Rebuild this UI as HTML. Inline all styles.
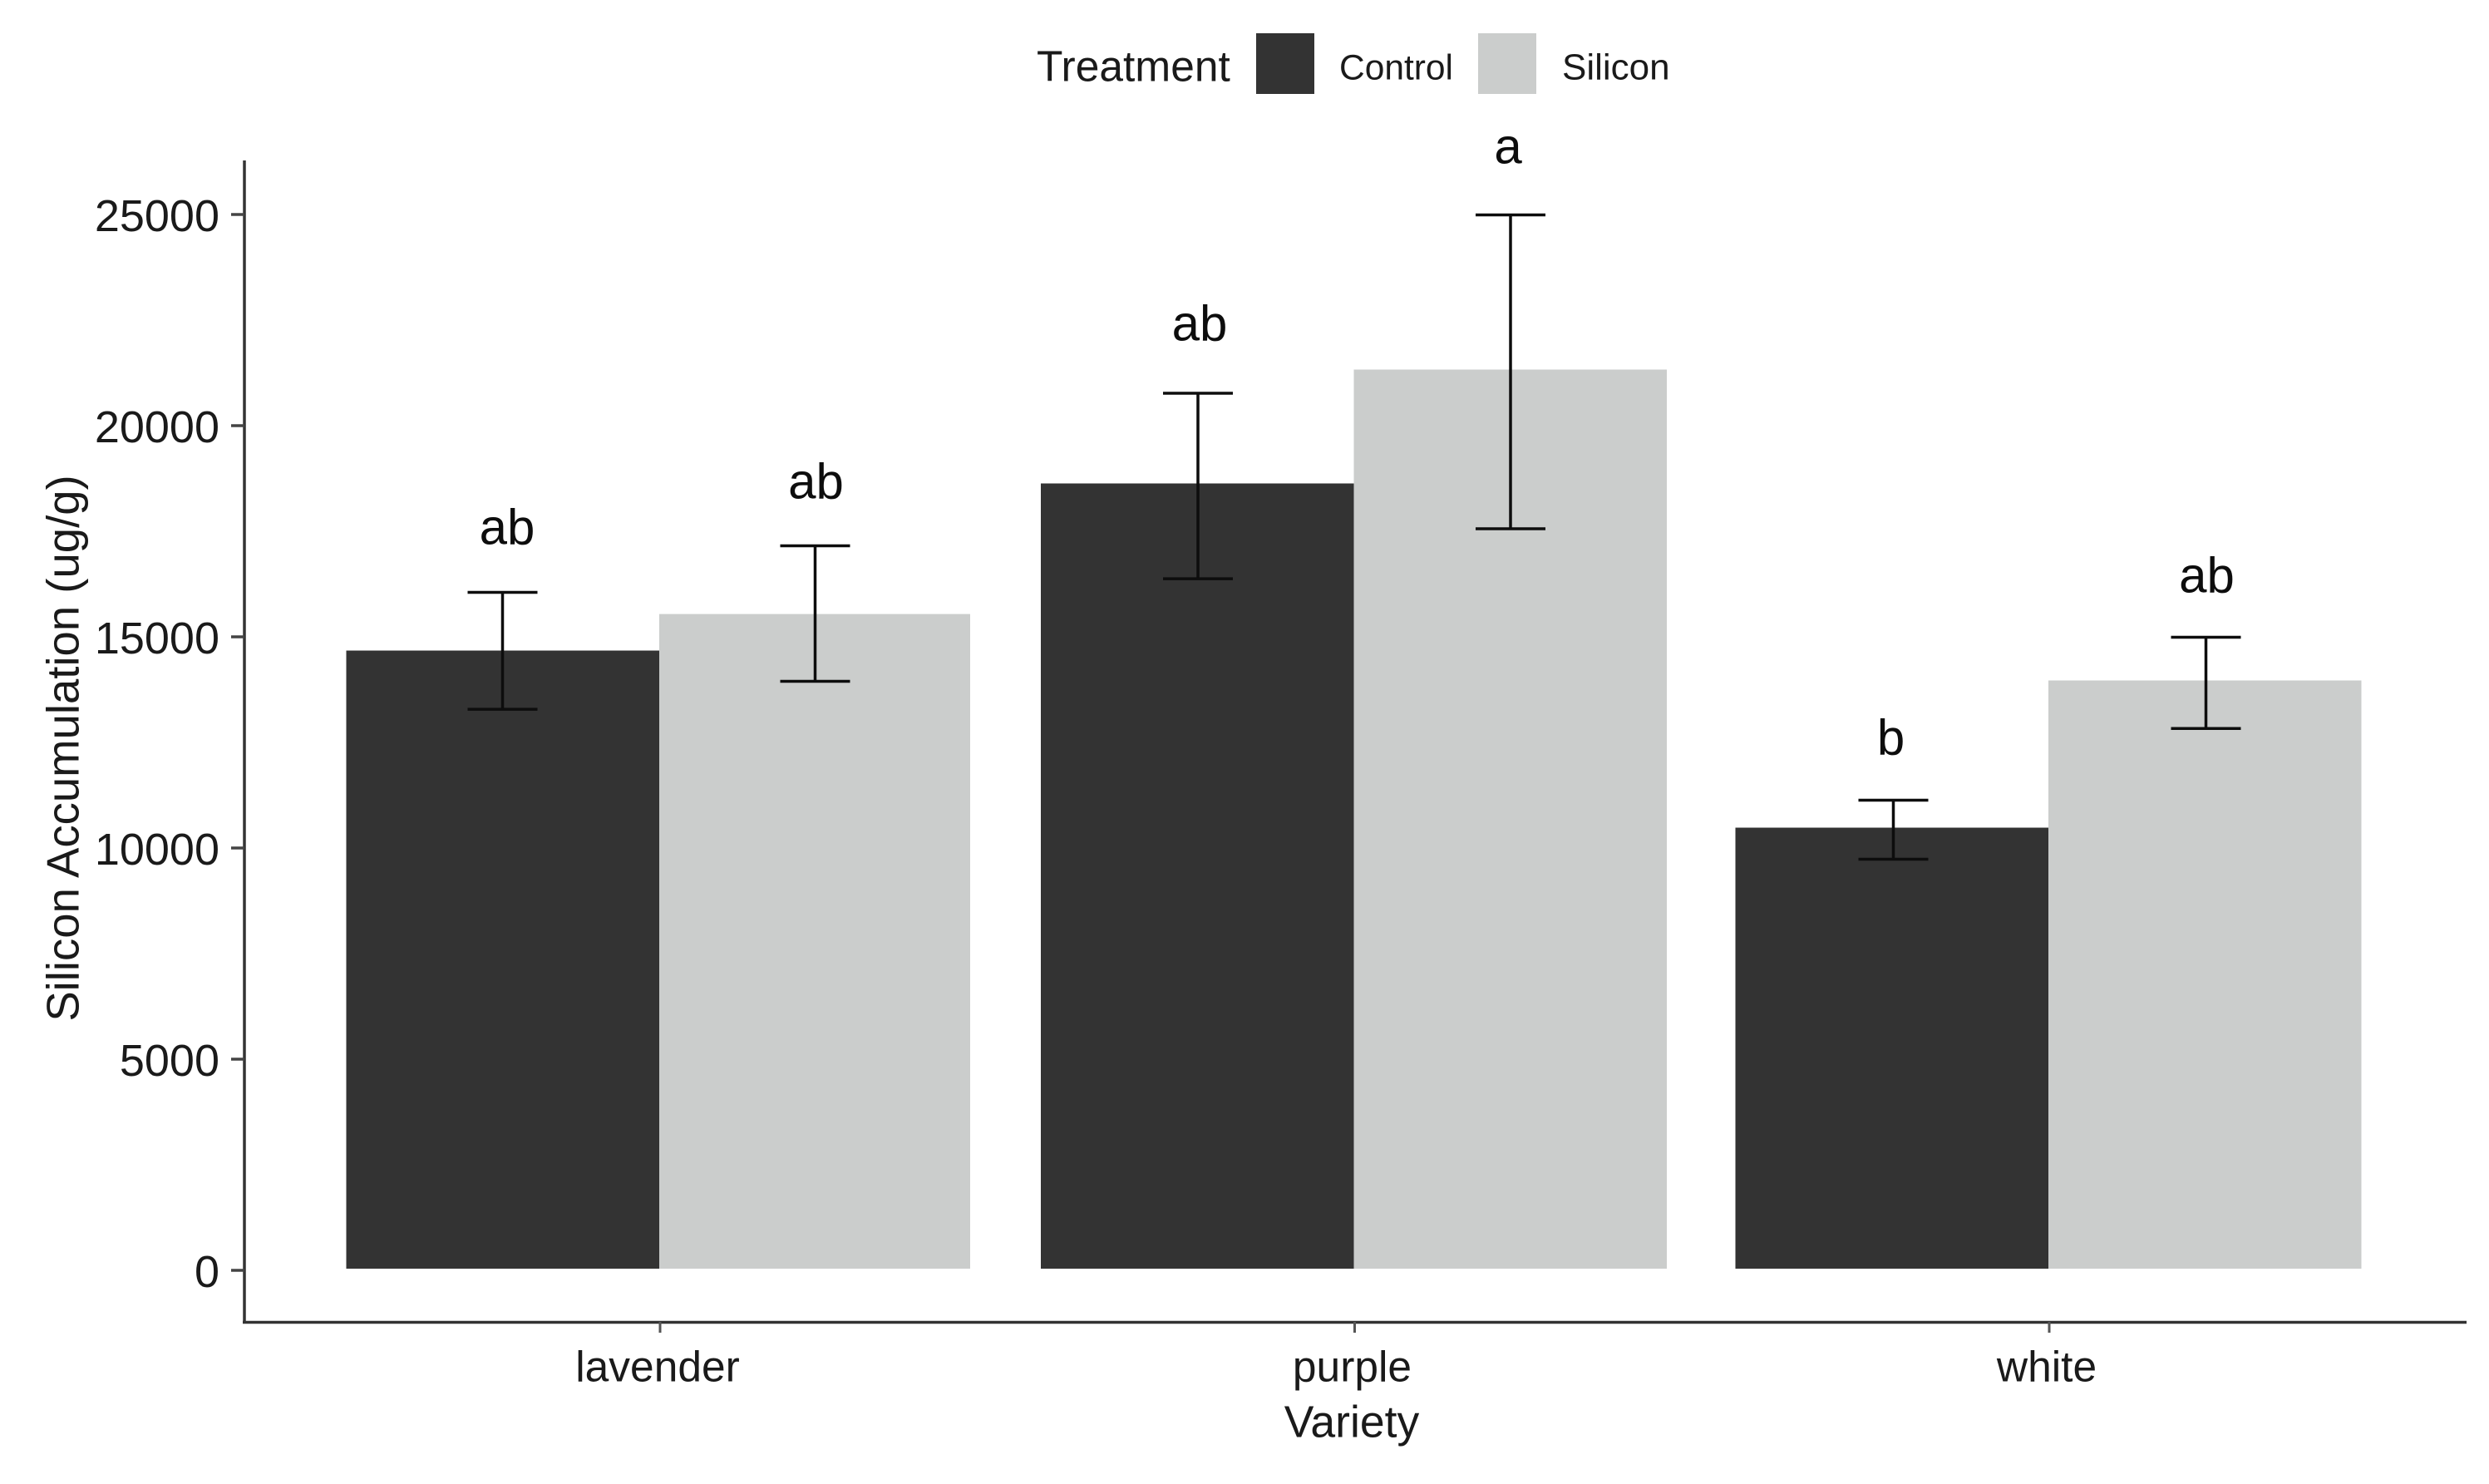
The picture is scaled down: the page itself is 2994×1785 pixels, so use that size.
<!DOCTYPE html>
<html lang="en">
<head>
<meta charset="utf-8">
<title>Silicon Accumulation by Variety and Treatment</title>
<style>
  html, body { margin: 0; padding: 0; background: #ffffff; }
  body { width: 2994px; height: 1785px; overflow: hidden; }
  svg { display: block; font-family: "Liberation Sans", Arial, sans-serif; }
</style>
</head>
<body>
<svg id="chart" xmlns="http://www.w3.org/2000/svg" width="2994" height="1785" viewBox="0 0 2994 1785">
  <rect x="0" y="0" width="2994" height="1785" fill="#ffffff"/>

  <g>
    <text x="1247" y="97.5" font-size="51.5" fill="#1a1a1a">Treatment</text>
    <rect x="1511" y="40" width="70" height="73" fill="#333333"/>
    <text x="1611" y="95.5" font-size="42.5" fill="#1a1a1a">Control</text>
    <rect x="1778" y="40" width="70" height="73" fill="#cbcdcc"/>
    <text x="1879" y="95.5" font-size="44" fill="#1a1a1a">Silicon</text>
  </g>

  <g id="bars"></g>
  <g id="errors"></g>
  <g id="letters"></g>

  <g id="y-axis">
    <line x1="294" y1="193" x2="294" y2="1592" stroke="#333333" stroke-width="3.5"/>
  </g>
  <g id="x-axis">
    <line x1="292" y1="1590.5" x2="2967" y2="1590.5" stroke="#333333" stroke-width="3.5"/>
  </g>

  <text transform="translate(94.5 900) rotate(-90)" text-anchor="middle" font-size="54.5" fill="#1a1a1a">Silicon Accumulation (ug/g)</text>
  <text x="1626" y="1728.5" text-anchor="middle" font-size="53.5" fill="#1a1a1a">Variety</text>
</svg>

<script>
const categories = ['lavender', 'purple', 'white'];
const controlValues = [14665, 18622, 10472];
const siliconValues = [15530, 21319, 13957];
const controlUpper = [16043, 20758, 11122];
const controlLower = [13274, 16366, 9724];
const siliconUpper = [17146, 24980, 14980];
const siliconLower = [13937, 17549, 12821];
const controlLetters = ['ab', 'ab', 'b'];
const siliconLetters = ['ab', 'a', 'ab'];
const controlLetterHeights = [17185, 22008, 12205];
const siliconLetterHeights = [18268, 26201, 16043];
const yTicks = [0, 5000, 10000, 15000, 20000, 25000];

const NS = 'http://www.w3.org/2000/svg';
const PLOT = {
  y0: 1527.5, pxPerUnit: 254 / 5000,
  firstX: 793, stepX: 835.5, barW: 376.5, capW: 84,
  barFootInset: 1.5,
  errControlX: 604.5, errSiliconX: 980.5, errStepX: 836.5,
  letterNudgeControl: [5.5, 2, -3],
  letterNudgeSilicon: [1, -3, 1],
  siliconWidthTrim: [2.5, 0, 0]
};

function yScale(v) { return PLOT.y0 - v * PLOT.pxPerUnit; }
function xScale(i) { return PLOT.firstX + i * PLOT.stepX; }

function mk(parent, tag, attrs, text) {
  const node = document.createElementNS(NS, tag);
  Object.keys(attrs).forEach(function (k) { node.setAttribute(k, attrs[k]); });
  if (text !== undefined) { node.textContent = text; }
  parent.appendChild(node);
  return node;
}

const barsG = document.getElementById('bars');
const errorsG = document.getElementById('errors');
const lettersG = document.getElementById('letters');
const yAxisG = document.getElementById('y-axis');
const xAxisG = document.getElementById('x-axis');

function drawBar(x, w, value, fill, name) {
  const top = yScale(value);
  const el = mk(barsG, 'rect', { x: x, y: top, width: w, height: yScale(0) - PLOT.barFootInset - top, fill: fill });
  
  
}

function drawError(cx, upper, lower, name) {
  const group = mk(errorsG, 'g', { stroke: '#0d0d0d', 'stroke-width': 3.5, fill: 'none' });
  
  
  const stem = mk(group, 'line', { x1: cx, x2: cx, y1: yScale(upper), y2: yScale(lower) });
  
  
  const capTop = mk(group, 'line', { x1: cx - PLOT.capW / 2, x2: cx + PLOT.capW / 2, y1: yScale(upper), y2: yScale(upper) });
  
  
  const capBottom = mk(group, 'line', { x1: cx - PLOT.capW / 2, x2: cx + PLOT.capW / 2, y1: yScale(lower), y2: yScale(lower) });
  
  
}

function drawLetter(cx, height, label, name) {
  const el = mk(lettersG, 'text', { x: cx, y: yScale(height), 'text-anchor': 'middle', 'font-size': 60, fill: '#0d0d0d' }, label);
  
  
}

categories.forEach(function (cat, i) {
  const c = xScale(i);
  const errC = PLOT.errControlX + i * PLOT.errStepX;
  const errS = PLOT.errSiliconX + i * PLOT.errStepX;

  drawBar(c - PLOT.barW, PLOT.barW, controlValues[i], '#333333', 'bar-' + cat + '-control');
  drawBar(c, PLOT.barW - PLOT.siliconWidthTrim[i], siliconValues[i], '#cbcdcc', 'bar-' + cat + '-silicon');

  drawError(errC, controlUpper[i], controlLower[i], 'error-bar-' + cat + '-control');
  drawError(errS, siliconUpper[i], siliconLower[i], 'error-bar-' + cat + '-silicon');

  drawLetter(errC + PLOT.letterNudgeControl[i], controlLetterHeights[i], controlLetters[i], 'letter-' + cat + '-control');
  drawLetter(errS + PLOT.letterNudgeSilicon[i], siliconLetterHeights[i], siliconLetters[i], 'letter-' + cat + '-silicon');

  const tick = mk(xAxisG, 'line', { x1: c + 1, x2: c + 1, y1: 1590, y2: 1603, stroke: '#555555', 'stroke-width': 3 });
  
  
  const label = mk(xAxisG, 'text', { x: c - 2, y: 1661.5, 'text-anchor': 'middle', 'font-size': 51.5, fill: '#1a1a1a' }, cat);
  
  
});

yTicks.forEach(function (t) {
  const y = yScale(t);
  const tick = mk(yAxisG, 'line', { x1: 278, x2: 294, y1: y + 0.5, y2: y + 0.5, stroke: '#444444', 'stroke-width': 3.5 });
  
  
  const label = mk(yAxisG, 'text', { x: 264, y: y + 20.5, 'text-anchor': 'end', 'font-size': 54, fill: '#1a1a1a' }, String(t));
  
  
});
</script>
</body>
</html>
